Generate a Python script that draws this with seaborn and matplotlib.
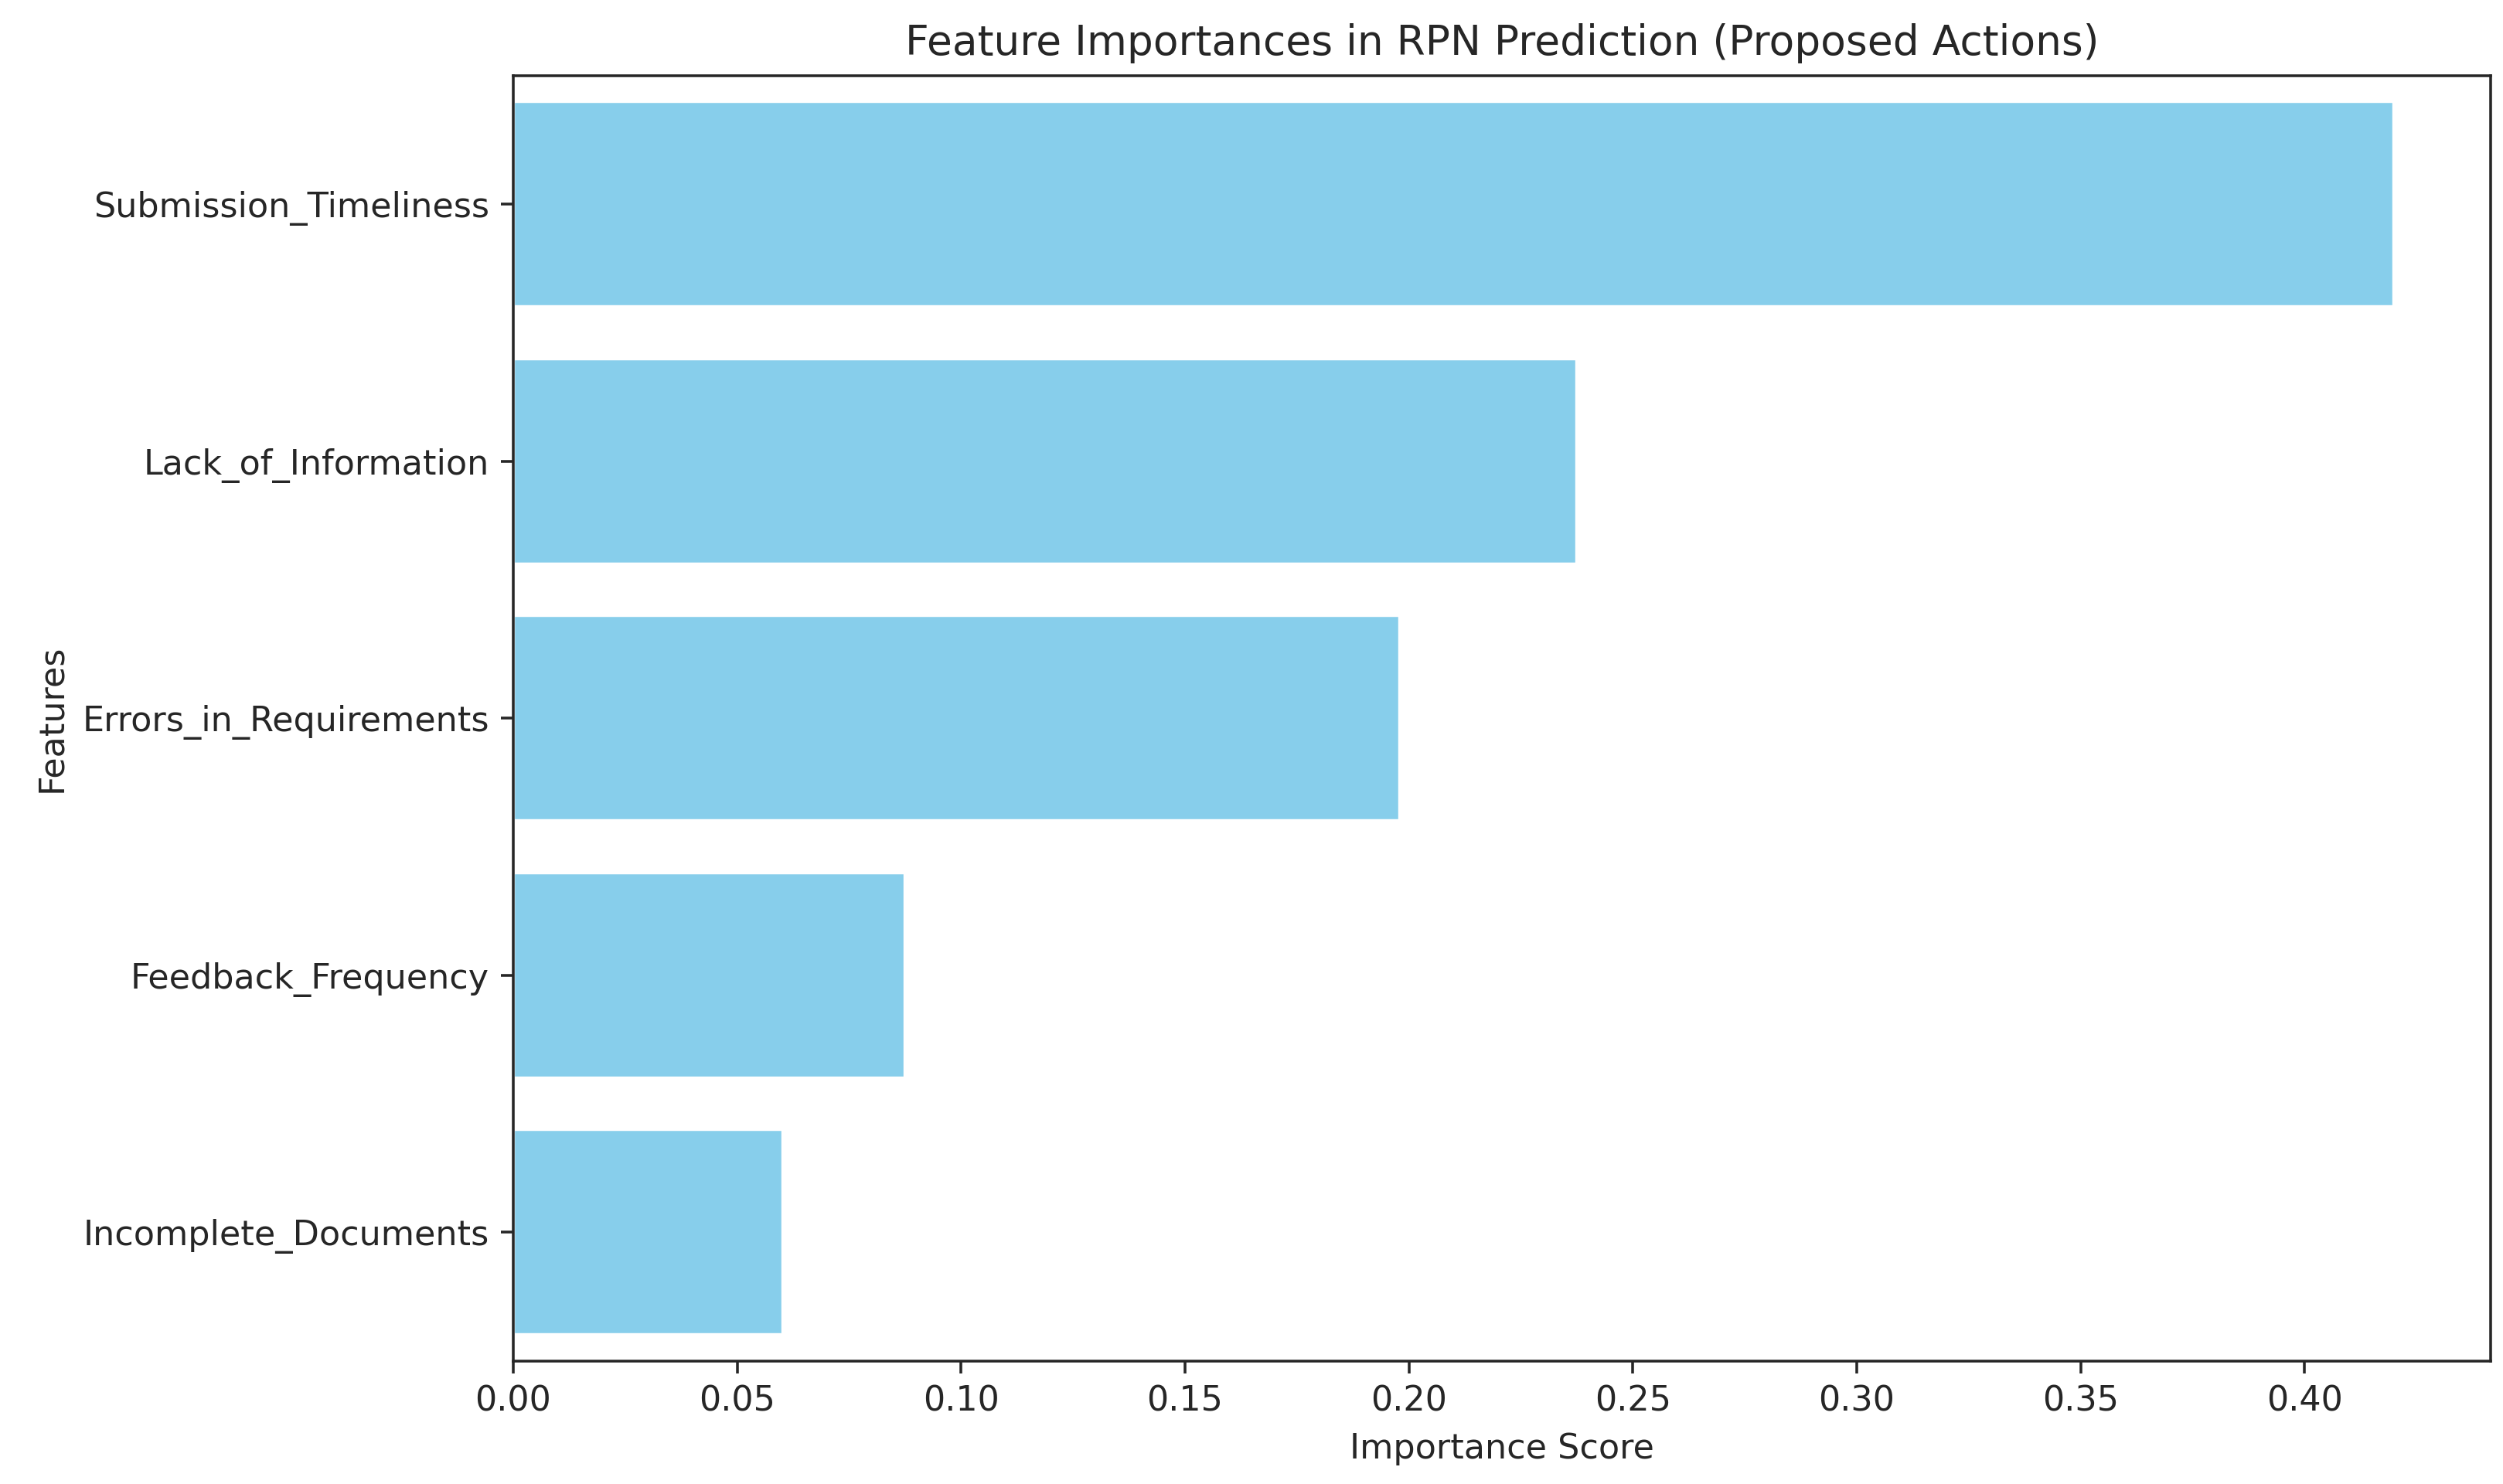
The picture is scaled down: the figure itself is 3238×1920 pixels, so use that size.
import pandas as pd
import seaborn as sns
import matplotlib.pyplot as plt

sns.set_style("ticks")

features = ['Submission_Timeliness', 'Lack_of_Information', 'Errors_in_Requirements',
            'Feedback_Frequency', 'Incomplete_Documents']
importances = [0.420, 0.2376, 0.198, 0.0875, 0.0602]

df = pd.DataFrame({'Feature': features, 'Importance': importances})

fig = plt.figure(figsize=(10.12, 6), dpi=320)
ax = fig.add_axes([0.205, 0.083, 0.79, 0.866])
sns.barplot(data=df, x='Importance', y='Feature', orient='h', color='skyblue',
            saturation=1, width=0.8, ax=ax)
ax.set_xlim(0, 0.4416)
ax.set_title('Feature Importances in RPN Prediction (Proposed Actions)', fontsize=12)
ax.set_xlabel('Importance Score')
ax.set_ylabel('Features')
fig.savefig('out.png', dpi=320)
